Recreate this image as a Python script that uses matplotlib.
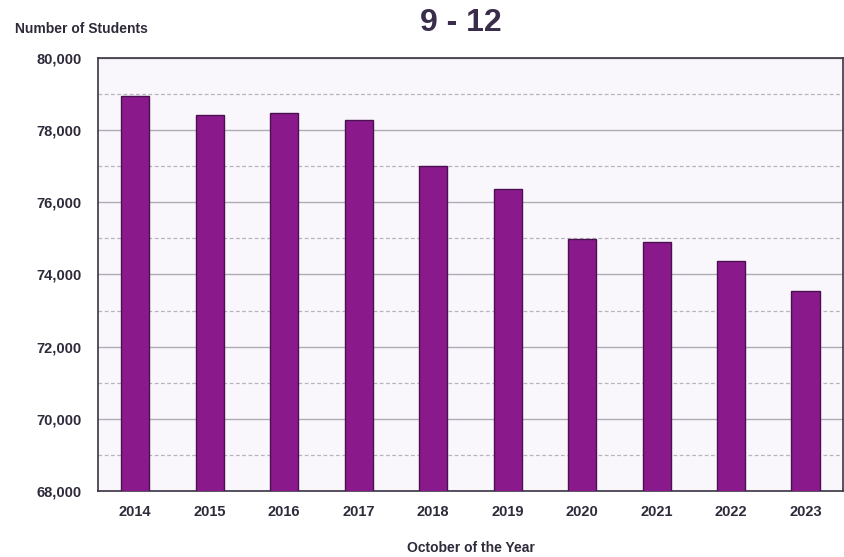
import matplotlib
matplotlib.use("Agg")
import matplotlib.pyplot as plt
from matplotlib.ticker import FuncFormatter, MultipleLocator

plt.rcParams["font.family"] = ["Liberation Sans", "DejaVu Sans"]

years = ["2014", "2015", "2016", "2017", "2018", "2019", "2020", "2021", "2022", "2023"]
students = [78950, 78420, 78470, 78280, 77000, 76360, 74980, 74900, 74380, 73540]

TEXT = "#2f2a3a"
BAR = "#8a1a8c"

fig = plt.figure(figsize=(8.45, 5.57), dpi=100)
ax = fig.add_axes([0.116, 0.1185, 0.8815, 0.7775])
ax.set_facecolor("#f9f7fb")

x = range(len(years))
ax.bar(x, students, width=0.38, color=BAR, edgecolor="#4a1050", linewidth=1.0,
       bottom=0, zorder=3)

ax.set_xlim(-0.5, len(years) - 0.5)
ax.set_ylim(68000, 80000)
ax.yaxis.set_major_locator(MultipleLocator(2000))
ax.yaxis.set_minor_locator(MultipleLocator(1000))
ax.yaxis.set_major_formatter(FuncFormatter(lambda v, p: f"{int(v):,}"))
ax.grid(axis="y", which="major", color="#b0acb6", linewidth=1.0, zorder=0)
ax.grid(axis="y", which="minor", color="#b8b4bd", linewidth=0.9, linestyle=(0, (3, 2)), zorder=0)

ax.set_xticks(list(x))
ax.set_xticklabels(years)
ax.tick_params(axis="both", which="both", length=0, colors=TEXT, labelsize=10.5)
for lab in ax.get_xticklabels() + ax.get_yticklabels():
    lab.set_fontweight("bold")
ax.tick_params(axis="y", pad=12)
ax.tick_params(axis="x", pad=10)

for side in ["left", "bottom", "top", "right"]:
    ax.spines[side].set_color("#3a3344")
    ax.spines[side].set_linewidth(1.2)

ax.set_xlabel("October of the Year", fontsize=10, fontweight="bold", color=TEXT, labelpad=16)
fig.text(0.018, 0.948, "Number of Students", fontsize=10, fontweight="bold", color=TEXT,
         ha="left", va="center")
fig.text(0.545, 0.958, "9 - 12", fontsize=23, fontweight="bold", color="#3a2d4c",
         ha="center", va="center")

fig.savefig("out.png", dpi=100)
